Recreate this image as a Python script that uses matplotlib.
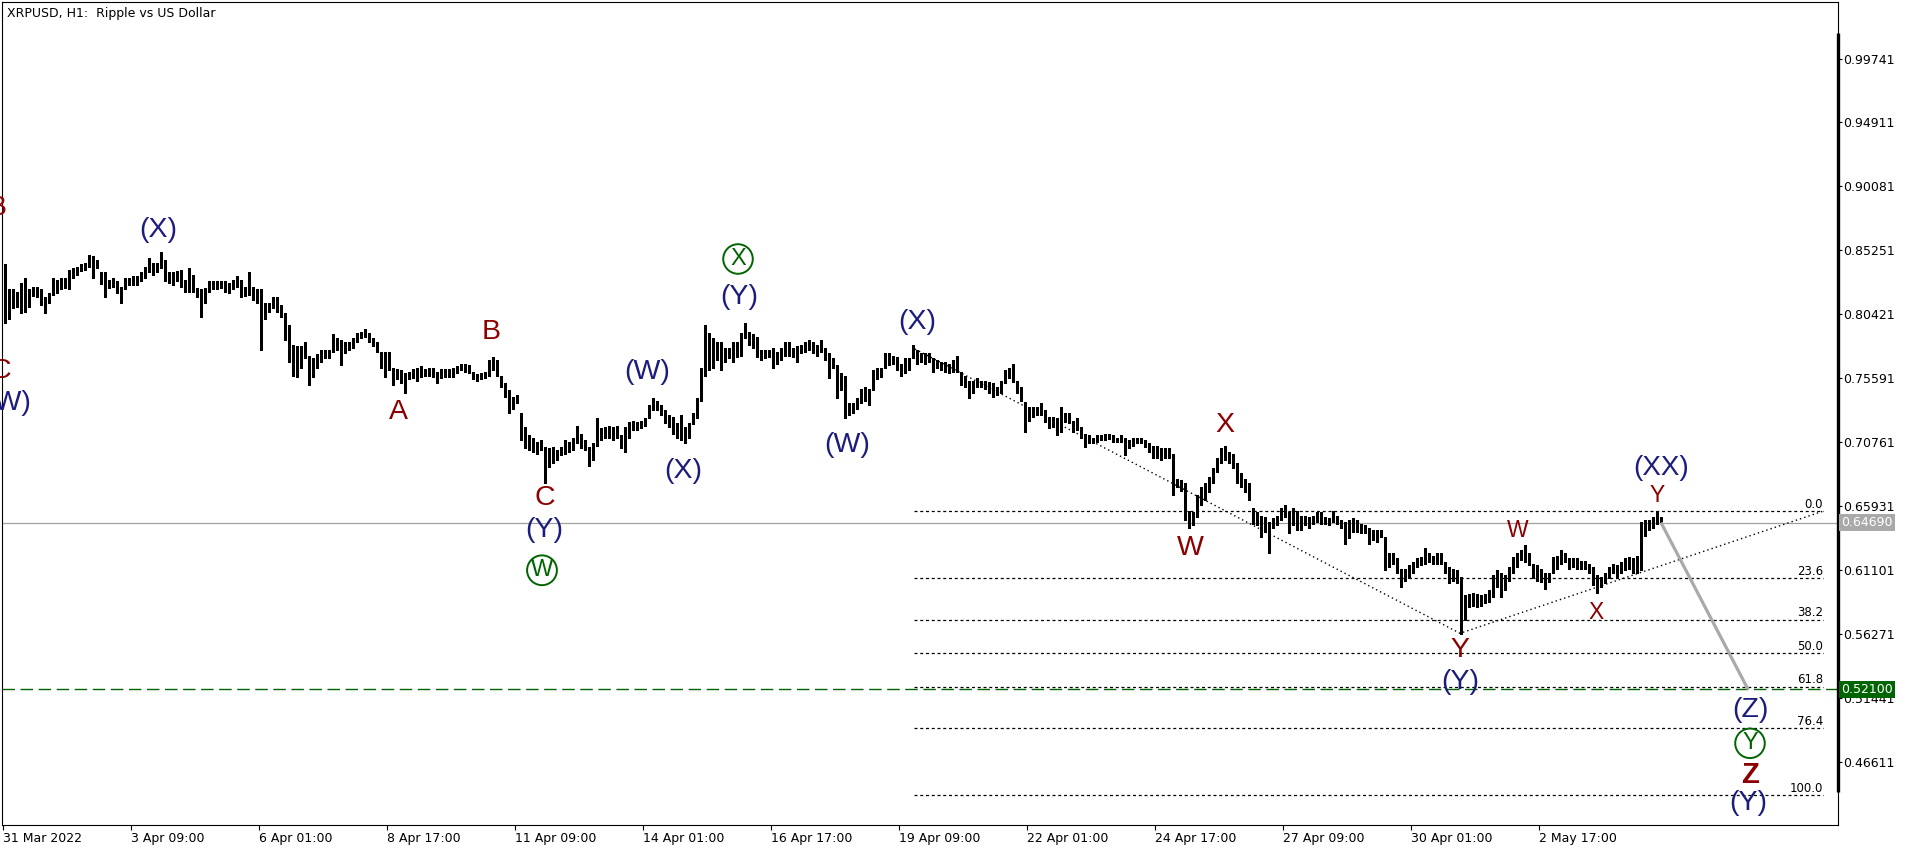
import matplotlib
matplotlib.use('Agg')
import matplotlib.pyplot as plt
import numpy as np
from matplotlib.transforms import blended_transform_factory

# ---------------- data (2-hour bars, XRPUSD) ----------------
highs = [
 .842,.823,.823,.821,.828,.832,.823,.825,.825,.823,
 .817,.820,.832,.830,.832,.832,.838,.839,.840,.842,
 .843,.849,.848,.845,.836,.836,.830,.832,.829,.825,
 .832,.832,.833,.833,.836,.840,.847,.843,.843,.851,
 .845,.836,.836,.837,.838,.830,.839,.834,.824,.823,
 .824,.829,.829,.829,.829,.829,.828,.830,.833,.830,
 .825,.836,.825,.823,.823,.813,.813,.817,.817,.811,
 .805,.796,.781,.780,.780,.783,.773,.771,.774,.777,
 .777,.777,.789,.786,.785,.783,.783,.786,.790,.791,
 .793,.790,.786,.783,.776,.776,.776,.764,.763,.762,
 .760,.761,.763,
 .764,.765,.763,.764,.764,.761,.763,.763,.763,.764,
 .765,.767,.767,.766,.761,.759,.760,.761,.770,.772,
 .770,.758,.752,.747,.742,.743,.730,.719,.713,.711,
 .708,.709,.704,.703,.704,.702,.704,.709,.708,.711,
 .720,.714,.709,.704,.707,.726,.718,.719,.720,.719,
 .720,.713,.719,.723,.724,.723,.724,.726,.736,.741,
 .739,.736,.732,.728,.727,.722,.728,.719,.722,.730,
 .741,.764,.796,.790,.786,.783,.783,.779,.779,.783,
 .783,.790,.798,.791,.789,.787,.777,.777,.777,.779,
 .776,.779,.783,.783,.779,.780,.781,.783,.785,.783,
 .781,.785,.779,.775,
 .771,.766,.760,.758,.737,.737,.741,.748,.749,.748,
 .762,.764,.764,.775,.775,.773,.772,.767,.771,.771,
 .781,.777,.775,.775,.775,.771,.770,.768,.768,.767,
 .770,.773,.761,.758,.754,.754,.756,.754,.754,.753,
 .752,.749,.754,.762,.764,.767,.754,.749,.738,.734,
 .734,.734,.737,.732,.727,.727,.726,.734,.730,.730,
 .724,.726,.719,.714,.713,.711,.713,.713,.714,.714,
 .713,.711,.713,.711,.709,.711,.711,.711,.709,.707,
 .705,.705,.703,.703,.703,.699,.680,.679,.677,.656,
 .655,.668,.674,.677,.681,.688,.696,.703,.705,.700,
 .699,.692,
 .684,.680,.677,.658,.655,.652,.651,.647,.650,.652,
 .658,.660,.655,.658,.656,.652,.652,.651,.652,.655,
 .655,.651,.650,.656,.652,.649,.647,.649,.650,.649,
 .646,.645,.643,.641,.641,.641,.636,.624,.624,.620,
 .612,.612,.615,.617,.620,.621,.628,.624,.622,.624,
 .624,.617,.613,.612,.611,.606,.592,.593,.594,.593,
 .592,.593,.596,.607,.611,.609,.607,.613,.621,.624,
 .626,.630,.624,.616,.615,.612,.609,.609,.621,.622,
 .626,.624,.620,.620,.620,.618,.618,.616,.613,.607,
 .606,.609,.613,.616,.615,.617,.620,.621,.620,.622,
 .647,.649,.649,.651,.656,.651,
]
lows = [
 .798,.801,.809,.810,.805,.806,.810,.818,.817,.811,
 .805,.813,.819,.820,.823,.824,.823,.832,.834,.837,
 .838,.840,.832,.839,.827,.817,.824,.825,.820,.813,
 .823,.826,.826,.826,.829,.832,.836,.834,.836,.839,
 .829,.828,.826,.829,.825,.821,.821,.821,.817,.802,
 .813,.821,.823,.823,.824,.821,.820,.823,.825,.817,
 .818,.819,.815,.813,.777,.801,.806,.809,.806,.802,
 .785,.768,.758,.757,.764,.771,.751,.757,.764,.768,
 .771,.771,.776,.777,.766,.775,.777,.779,.783,.786,
 .787,.783,.780,.776,.764,.757,.762,.751,.755,.752,
 .745,.755,.756,
 .754,.757,.758,.758,.757,.752,.756,.757,.757,.757,
 .760,.762,.761,.760,.755,.754,.755,.756,.758,.762,
 .758,.749,.742,.730,.733,.737,.709,.703,.702,.700,
 .699,.702,.677,.689,.692,.694,.698,.699,.700,.702,
 .707,.703,.702,.690,.694,.705,.709,.711,.711,.709,
 .711,.703,.700,.711,.717,.717,.718,.720,.726,.732,
 .732,.728,.722,.719,.714,.711,.709,.707,.711,.721,
 .726,.739,.758,.762,.764,.770,.762,.768,.771,.768,
 .772,.773,.786,.781,.779,.772,.770,.771,.772,.764,
 .767,.770,.773,.773,.772,.768,.775,.776,.777,.775,
 .773,.776,.770,.756,
 .764,.741,.747,.726,.728,.730,.733,.737,.739,.736,
 .747,.755,.757,.764,.766,.767,.762,.758,.760,.762,
 .771,.767,.768,.767,.768,.761,.764,.762,.761,.760,
 .761,.761,.751,.749,.741,.745,.749,.749,.748,.745,
 .742,.743,.745,.752,.756,.753,.745,.739,.715,.724,
 .727,.728,.728,.723,.718,.719,.713,.715,.723,.722,
 .715,.717,.711,.704,.707,.707,.708,.709,.709,.710,
 .708,.708,.708,.698,.703,.705,.707,.707,.704,.700,
 .696,.696,.694,.696,.696,.668,.674,.671,.649,.643,
 .645,.651,.660,.664,.670,.677,.685,.692,.694,.692,
 .688,.677,
 .674,.670,.664,.646,.645,.636,.640,.624,.643,.645,
 .649,.651,.639,.645,.641,.641,.645,.643,.646,.647,
 .646,.646,.645,.647,.646,.643,.631,.635,.640,.640,
 .639,.639,.631,.634,.632,.636,.611,.613,.616,.609,
 .598,.603,.605,.609,.613,.615,.616,.617,.616,.616,
 .616,.609,.601,.603,.601,.563,.573,.583,.584,.583,
 .584,.586,.587,.591,.598,.591,.596,.603,.609,.613,
 .619,.617,.615,.605,.603,.602,.597,.602,.609,.612,
 .616,.617,.612,.613,.612,.612,.612,.609,.600,.594,
 .598,.601,.605,.609,.605,.609,.611,.612,.609,.609,
 .611,.637,.641,.643,.646,.647,
]

date_labels = ['31 Mar 2022', '3 Apr 09:00', '6 Apr 01:00', '8 Apr 17:00',
               '11 Apr 09:00', '14 Apr 01:00', '16 Apr 17:00', '19 Apr 09:00',
               '22 Apr 01:00', '24 Apr 17:00', '27 Apr 09:00', '30 Apr 01:00',
               '2 May 17:00']
bars_per_label = 32          # 64 hours of 2-hour bars
price_ticks = [0.99741, 0.94911, 0.90081, 0.85251, 0.80421, 0.75591, 0.70761,
               0.65931, 0.61101, 0.56271, 0.51441, 0.46611]

current_price = 0.64690
target_price = 0.52100

# Fibonacci expansion (three anchors: bar index, price)
fib_anchor_bars = [227.5, 363.75, 454.5]
fib_anchor_prices = [0.7780, 0.5633, 0.6555]
fib_start_bar = 227.25
fib_ratios = [0.0, 0.236, 0.382, 0.5, 0.618, 0.764, 1.0]
fib_texts = ['0.0', '23.6', '38.2', '50.0', '61.8', '76.4', '100.0']

# forecast path
proj_bars = [414, 435.75]
proj_prices = [0.6469, 0.5210]

RED = '#8B0000'
BLUE = '#1C1C7C'
GREEN = '#006400'

# wave labels: text, bar, price, colour, size, bold, circled
wave_labels = [
    ('B', -2.0, 0.8846, RED, 20.5, False, False),
    ('C', -1.0, 0.7614, RED, 20.5, False, False),
    ('(W)', 0.75, 0.7372, BLUE, 20.5, False, False),
    ('(X)', 38.25, 0.8679, BLUE, 20.5, False, False),
    ('A', 98.25, 0.7304, RED, 20.5, False, False),
    ('B', 121.5, 0.7908, RED, 20.5, False, False),
    ('C', 135.0, 0.6654, RED, 20.5, False, False),
    ('(Y)', 134.75, 0.6412, BLUE, 20.5, False, False),
    ('W', 134.25, 0.6109, GREEN, 17, False, True),
    ('(W)', 160.5, 0.7606, BLUE, 20.5, False, False),
    ('(X)', 169.5, 0.6858, BLUE, 20.5, False, False),
    ('X', 183.25, 0.8460, GREEN, 17, False, True),
    ('(Y)', 183.5, 0.8173, BLUE, 20.5, False, False),
    ('(X)', 228.0, 0.7984, BLUE, 20.5, False, False),
    ('(W)', 210.5, 0.7054, BLUE, 20.5, False, False),
    ('X', 305.0, 0.7205, RED, 20.5, False, False),
    ('W', 296.25, 0.6276, RED, 20.5, False, False),
    ('Y', 363.75, 0.5505, RED, 20.5, False, False),
    ('(Y)', 363.75, 0.5263, BLUE, 20.5, False, False),
    ('W', 378.25, 0.6412, RED, 16.5, False, False),
    ('X', 397.75, 0.5792, RED, 16.5, False, False),
    ('Y', 413.0, 0.6676, RED, 16.5, False, False),
    ('(XX)', 414.0, 0.6880, BLUE, 20, False, False),
    ('(Z)', 436.25, 0.5051, BLUE, 20.5, False, False),
    ('Y', 436.25, 0.4802, GREEN, 17, False, True),
    ('Z', 436.25, 0.4560, RED, 21, True, False),
    ('(Y)', 435.75, 0.4348, BLUE, 20.5, False, False),
]

# ---------------- figure ----------------
W, H = 1916, 852
fig = plt.figure(figsize=(W / 100, H / 100), dpi=100)
fig.patch.set_facecolor('white')
ax = fig.add_axes([2 / W, (H - 825) / H, 1836 / W, 823 / H])
ax.set_xlim(-0.75, 458.25)
ax.set_ylim(0.4185, 1.0401)
ax.set_facecolor('white')

for s in ax.spines.values():
    s.set_linewidth(0.8)
    s.set_color('black')

x = np.arange(len(highs))
ax.vlines(x, lows, highs, color='black', lw=0.75, antialiased=False, zorder=3)

# horizontal lines
ax.axhline(current_price, color='#a0a0a0', lw=0.9, zorder=2)
ax.axhline(target_price, color=GREEN, lw=1.0, linestyle=(0, (9, 4)), zorder=4)

# Fibonacci expansion
p1, p2, p3 = fib_anchor_prices
fib_levels = [p3 - r * (p1 - p2) for r in fib_ratios]
fib_end = fib_anchor_bars[2]
ax.hlines(fib_levels, fib_start_bar, fib_end, color='black', lw=0.9,
          linestyles=[(0, (2.4, 2.2))], zorder=2)
for lvl, t in zip(fib_levels, fib_texts):
    ax.annotate(t, xy=(fib_end, lvl), xytext=(0, 2.5), textcoords='offset points',
                ha='right', va='baseline', fontsize=8.5, color='black',
                family='DejaVu Sans', zorder=5)
ax.plot(fib_anchor_bars, fib_anchor_prices, color='black', lw=1.0,
        linestyle=(0, (1.0, 2.2)), zorder=2)

# forecast
ax.plot(proj_bars, proj_prices, color='#a9a9a9', lw=2.3, solid_capstyle='butt', zorder=4)

# wave labels
for t, b, p, c, fs, bold, circ in wave_labels:
    kw = dict(ha='center', va='center', color=c, fontsize=fs,
              family='Liberation Sans', fontweight='bold' if bold else 'normal',
              zorder=6)
    if circ:
        kw['bbox'] = dict(boxstyle='circle,pad=0.16', fc='none', ec=c, lw=1.4)
    ax.text(b, p, t, **kw)

# axes ticks
ax.set_xticks([-0.5 + bars_per_label * k for k in range(len(date_labels))])
ax.set_xticklabels(date_labels, ha='left', fontsize=9, family='DejaVu Sans')
ax.tick_params(axis='x', direction='out', length=3.6, width=0.8, pad=1.2)
ax.yaxis.tick_right()
ax.set_yticks(price_ticks)
ax.set_yticklabels([f'{v:.5f}' for v in price_ticks], fontsize=9, family='DejaVu Sans')
ax.tick_params(axis='y', direction='out', length=3.0, width=0.8, pad=1.0)

# thick price-scale bar on the right
trans = blended_transform_factory(ax.transAxes, ax.transData)
ax.plot([1.0, 1.0], [1.0168, 0.4431], transform=trans, color='black', lw=2.4,
        solid_capstyle='butt', clip_on=False, zorder=5)

# price boxes
ax.text(1.0018, current_price, f'{current_price:.5f}', transform=trans, ha='left',
        va='center', color='white', fontsize=9, family='DejaVu Sans', clip_on=False,
        bbox=dict(boxstyle='square,pad=0.18', fc='#a9a9a9', ec='none'), zorder=10)
ax.text(1.0018, target_price, f'{target_price:.5f}', transform=trans, ha='left',
        va='center', color='white', fontsize=9, family='DejaVu Sans', clip_on=False,
        bbox=dict(boxstyle='square,pad=0.18', fc=GREEN, ec='none'), zorder=10)

# title
fig.text(7 / W, 1 - 13 / H, 'XRPUSD, H1:  Ripple vs US Dollar', ha='left', va='center',
         fontsize=9, family='DejaVu Sans', color='black')

fig.savefig('out.png', dpi=100, facecolor='white')
